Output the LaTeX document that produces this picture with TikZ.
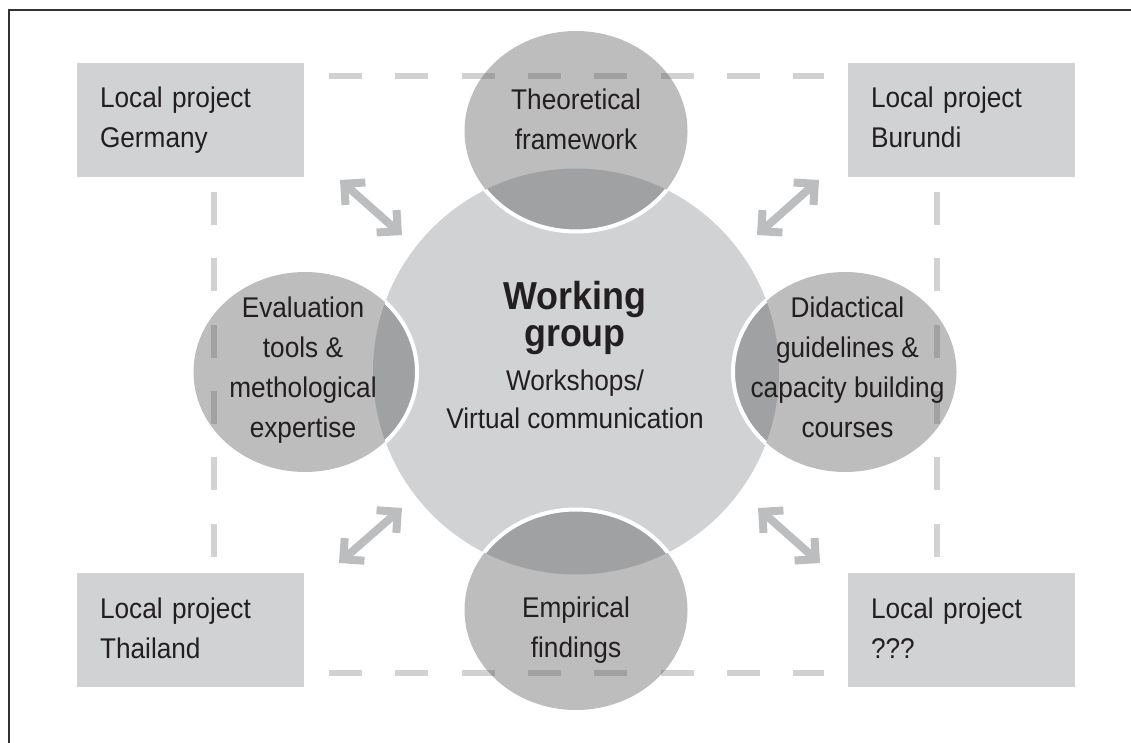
\documentclass[tikz,border=0pt]{standalone}
\usepackage{fontspec}
\setmainfont[FakeStretch=0.92]{Liberation Sans}
\usetikzlibrary{shapes.geometric,arrows.meta}

\definecolor{boxgray}{HTML}{D1D2D4}
\definecolor{arrowgray}{HTML}{BCBDBF}
\definecolor{topicgray}{HTML}{545454}
\definecolor{textdark}{HTML}{231F20}
\definecolor{framegray}{HTML}{333333}

\tikzset{
  project/.style={fill=boxgray, minimum width=227pt, minimum height=114pt, text width=181pt,
                  inner xsep=23pt, inner ysep=0pt, align=left, text=textdark,
                  font=\fontsize{28.5}{40}\selectfont},
  topic/.style={ellipse, fill=topicgray, fill opacity=0.39, minimum width=223pt,
                minimum height=200pt, inner sep=0pt},
  topictext/.style={align=center, text=textdark, font=\fontsize{28.5}{40}\selectfont},
  dashline/.style={boxgray, line width=6pt, dash pattern=on 33pt off 33.3pt},
  link/.style={arrowgray, line width=8pt,
               {Straight Barb[sharp,length=15pt,width=30pt]}-{Straight Barb[sharp,length=15pt,width=30pt]}},
}

\begin{document}
\begin{tikzpicture}[x=1pt, y=-1pt]
        \useasboundingbox (0,0) rectangle (1131,743);
        \draw [framegray, line width=1.5pt] (9,743) -- (9,10) -- (1131,10);   %frame

        \draw [dashline] (329,76)  -- (824,76);                              %top
        \draw [dashline] (329,673) -- (824,673);                             %bottom
        \draw [dashline] (214,192) -- (214,558);                             %left
        \draw [dashline] (937,192) -- (937,558);                             %right

        \node [project] (ger) at (190.5,120) {\strut Local project\\Germany\strut};
        \node [project] (bur) at (961.5,120) {\strut Local project\\Burundi\strut};
        \node [project] (tha) at (190.5,630) {\strut Local project\\Thailand\strut};
        \node [project] (unk) at (961.5,630) {\strut Local project\\???\strut};

        \node [circle, fill=boxgray, minimum size=406pt, inner sep=0pt] (wg) at (576,371.5) {};

        \coordinate (gerA) at (340,180); \coordinate (gerB) at (402,235);
        \coordinate (burA) at (819,180); \coordinate (burB) at (757,235);
        \coordinate (thaA) at (339,563); \coordinate (thaB) at (402,508);
        \coordinate (unkA) at (820,563); \coordinate (unkB) at (758,508);
        \draw [link] (gerA) -- (gerB);                                        %Germany
        \draw [link] (burA) -- (burB);                                        %Burundi
        \draw [link] (thaA) -- (thaB);                                        %Thailand
        \draw [link] (unkA) -- (unkB);                                        %???

        \node [topic] (th) at (576,131) {};                                   %top
        \node [topic] (ev) at (305,372) {};                                   %left
        \node [topic] (di) at (845,372) {};                                   %right
        \node [topic] (em) at (576,610) {};                                   %bottom

        \begin{scope}
          \clip (wg.center) circle (203);
          \foreach \t in {th,ev,di,em}
            \draw [white, line width=4pt] (\t.center) ellipse [x radius=112pt, y radius=100.5pt];
        \end{scope}

        \node [text=textdark, align=center, font=\fontsize{39}{37}\selectfont\bfseries]
              (wgtitle) at (575,319) {\strut Working\\group\strut};
        \node [text=textdark, align=center, font=\fontsize{28.5}{38}\selectfont]
              (wgsub) at (575,401.5) {\strut Workshops/\\Virtual communication\strut};

        \node [topictext] (thtxt) at (576,121.5) {\strut Theoretical\\framework\strut};
        \node [topictext] (evtxt) at (303,369)   {\strut Evaluation\\tools \&\\methological\\expertise\strut};
        \node [topictext] (ditxt) at (847.5,369) {\strut Didactical\\guidelines \&\\capacity building\\courses\strut};
        \node [topictext] (emtxt) at (576,629)   {\strut Empirical\\findings\strut};
\end{tikzpicture}
\end{document}
